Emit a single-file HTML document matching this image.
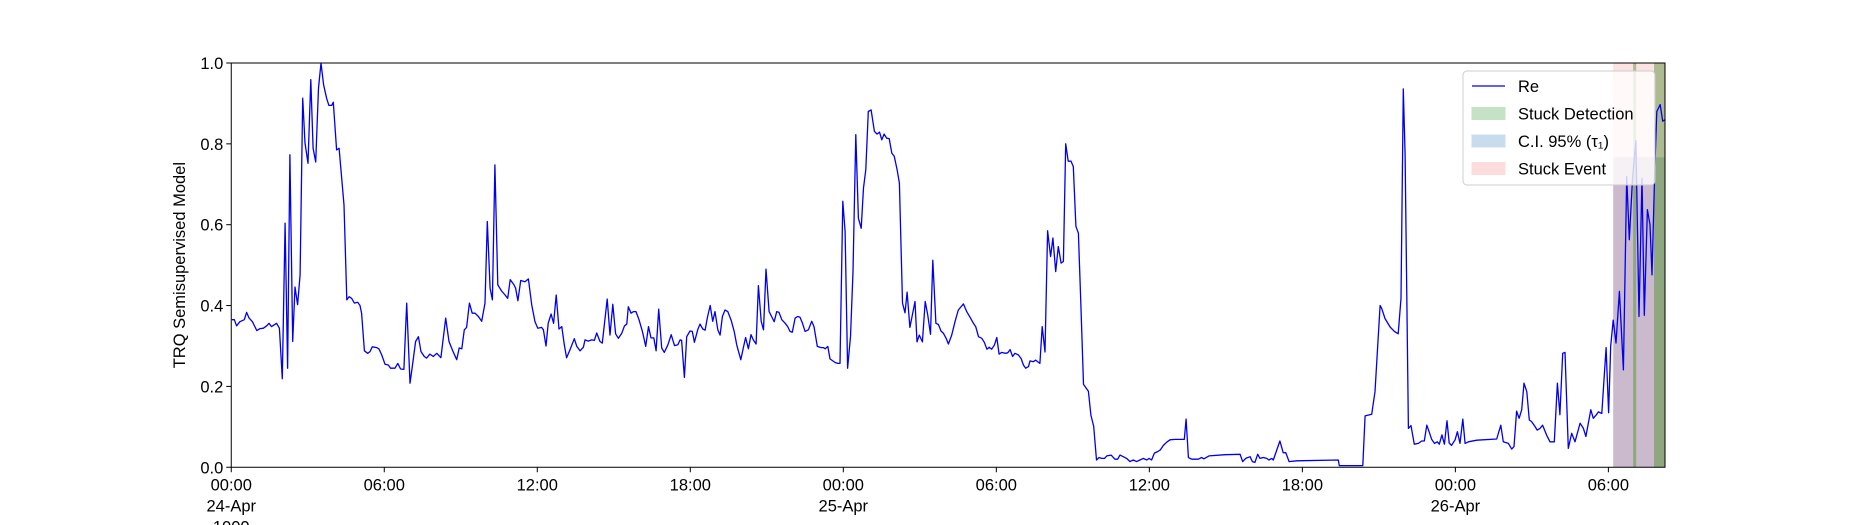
<!DOCTYPE html>
<html><head><meta charset="utf-8"><style>
html,body{margin:0;padding:0;background:#fff;}
svg{display:block;font-family:"Liberation Sans","DejaVu Sans",sans-serif;}
</style></head><body>
<svg id="chart" width="1850" height="525" viewBox="0 0 1850 525" xmlns="http://www.w3.org/2000/svg"></svg>
<script>
const hours=[0.02,0.12,0.21,0.34,0.51,0.60,0.70,0.83,1.00,1.13,1.26,1.39,1.48,1.58,1.78,1.89,2.00,2.11,2.21,2.30,2.41,2.50,2.60,2.70,2.80,2.89,3.01,3.12,3.21,3.31,3.42,3.52,3.62,3.74,3.83,3.94,4.00,4.13,4.23,4.42,4.53,4.62,4.72,4.83,4.96,5.05,5.11,5.22,5.35,5.44,5.53,5.70,5.79,5.90,6.03,6.16,6.25,6.42,6.53,6.64,6.77,6.88,7.01,7.10,7.23,7.34,7.44,7.57,7.66,7.79,7.92,8.06,8.22,8.41,8.54,8.67,8.84,8.94,9.04,9.14,9.23,9.34,9.45,9.56,9.69,9.82,9.95,10.04,10.15,10.24,10.34,10.45,10.60,10.74,10.84,10.94,11.08,11.15,11.24,11.35,11.52,11.65,11.78,11.91,12.02,12.17,12.24,12.34,12.43,12.54,12.64,12.74,12.85,12.96,13.06,13.15,13.28,13.45,13.55,13.68,13.81,13.87,14.00,14.13,14.24,14.33,14.46,14.55,14.74,14.85,14.96,15.07,
15.18,15.31,15.42,15.51,15.57,15.68,15.77,15.87,15.99,16.12,16.25,16.36,16.46,16.57,16.66,16.76,16.88,16.98,17.12,17.25,17.38,17.51,17.60,17.66,17.77,17.86,17.99,18.08,18.16,18.29,18.38,18.49,18.58,18.68,18.78,18.88,18.97,19.08,19.17,19.26,19.36,19.47,19.60,19.72,19.82,19.98,20.08,20.17,20.28,20.38,20.47,20.58,20.67,20.78,20.87,20.97,21.09,21.19,21.29,21.39,21.48,21.59,21.72,21.82,21.91,22.00,22.11,22.21,22.30,22.40,22.50,22.63,22.76,22.85,22.98,23.13,23.22,23.29,23.39,23.48,23.68,23.78,23.87,23.98,24.07,24.17,24.28,24.38,24.49,24.59,24.70,24.79,24.88,24.98,25.09,25.22,25.32,25.42,25.51,25.60,25.70,25.80,25.90,26.00,26.11,26.20,26.32,26.42,26.50,26.61,26.71,26.81,26.89,26.98,27.10,27.21,27.31,27.42,27.51,27.63,27.73,27.83,27.93,28.03,28.12,28.25,28.38,28.51,28.71,28.84,28.97,29.10,29.19,29.30,29.43,29.53,29.63,29.72,29.82,29.93,30.02,30.11,30.21,30.34,30.45,30.54,30.64,
30.73,30.86,30.97,31.06,31.15,31.26,31.32,31.45,31.54,31.71,31.80,31.91,32.01,32.13,32.22,32.33,32.43,32.54,32.63,32.72,32.82,32.93,33.02,33.12,33.22,33.32,33.42,33.61,33.71,33.82,33.93,34.03,34.13,34.24,34.33,34.50,34.65,34.76,34.85,34.98,35.11,35.24,35.37,35.50,35.63,35.76,35.90,35.99,36.09,36.20,36.33,36.43,36.55,36.68,36.81,37.01,37.37,37.44,37.53,37.66,37.92,38.05,38.14,38.34,38.97,39.56,39.66,39.78,39.95,40.04,40.14,40.25,40.34,40.47,40.60,40.69,40.80,40.86,41.12,41.25,41.35,41.48,41.78,43.41,43.45,44.37,44.46,44.72,44.85,45.05,45.11,45.24,45.44,45.61,45.76,45.87,45.96,46.03,46.16,46.26,46.39,46.55,46.68,46.78,46.88,46.97,47.07,47.18,47.29,47.37,47.47,47.57,47.67,47.76,
47.85,47.99,48.08,48.18,48.29,48.38,48.51,48.84,49.62,49.78,49.88,50.08,50.21,50.30,50.40,50.50,50.60,50.69,50.80,50.90,50.99,51.12,51.21,51.32,51.42,51.58,51.71,51.88,52.00,52.10,52.21,52.30,52.43,52.56,52.69,52.89,53.02,53.12,53.31,53.41,53.52,53.61,53.74,53.91,54.01,54.09,54.19,54.30,54.43,54.59,54.72,54.82,54.95,55.08,55.20,55.32,55.41,55.53,55.63,55.71,55.82,55.90,56.03,56.13,56.22];
const values=[0.365,0.365,0.35,0.36,0.365,0.383,0.369,0.36,0.338,0.343,0.344,0.35,0.356,0.348,0.356,0.344,0.219,0.604,0.245,0.773,0.311,0.446,0.402,0.476,0.913,0.802,0.752,0.959,0.789,0.755,0.938,1.0,0.946,0.913,0.895,0.895,0.903,0.785,0.789,0.649,0.414,0.422,0.418,0.406,0.408,0.400,0.381,0.288,0.282,0.286,0.298,0.296,0.293,0.278,0.255,0.253,0.245,0.245,0.257,0.243,0.242,0.406,0.208,0.249,0.311,0.323,0.286,0.274,0.270,0.280,0.274,0.282,0.271,0.369,0.311,0.290,0.266,0.295,0.293,0.340,0.346,0.406,0.381,0.381,0.373,0.361,0.406,0.608,0.443,0.414,0.748,0.451,0.436,0.426,0.418,0.464,0.452,0.443,0.412,0.462,0.459,0.466,0.402,0.360,0.344,0.346,0.340,0.300,0.356,0.379,0.356,0.426,0.342,0.348,0.303,0.271,0.290,0.318,0.299,0.288,0.297,0.315,0.312,0.315,0.314,0.332,0.311,0.307,0.416,0.327,0.403,0.330,
0.319,0.331,0.350,0.354,0.397,0.381,0.385,0.385,0.365,0.336,0.299,0.348,0.320,0.320,0.288,0.391,0.295,0.284,0.303,0.328,0.301,0.303,0.315,0.314,0.222,0.323,0.337,0.336,0.309,0.340,0.354,0.342,0.339,0.373,0.400,0.361,0.385,0.340,0.327,0.373,0.389,0.385,0.364,0.336,0.303,0.266,0.295,0.321,0.293,0.328,0.315,0.305,0.449,0.361,0.340,0.490,0.385,0.373,0.360,0.385,0.383,0.365,0.356,0.348,0.336,0.334,0.369,0.373,0.371,0.356,0.336,0.340,0.361,0.348,0.299,0.296,0.296,0.293,0.299,0.268,0.259,0.257,0.257,0.658,0.583,0.245,0.323,0.484,0.823,0.616,0.591,0.691,0.736,0.880,0.884,0.831,0.824,0.829,0.810,0.824,0.814,0.813,0.777,0.769,0.736,0.703,0.406,0.382,0.433,0.346,0.377,0.410,0.310,0.327,0.310,0.410,0.377,0.329,0.512,0.356,0.353,0.337,0.331,0.319,0.305,0.327,0.360,0.389,0.404,0.385,0.371,0.356,0.348,0.323,0.319,0.309,0.292,0.297,0.292,0.303,0.321,0.280,0.284,0.282,0.283,0.291,0.274,
0.282,0.278,0.269,0.253,0.245,0.249,0.263,0.261,0.265,0.257,0.348,0.285,0.585,0.521,0.567,0.484,0.546,0.505,0.509,0.800,0.757,0.757,0.744,0.596,0.579,0.393,0.205,0.188,0.129,0.101,0.018,0.024,0.022,0.022,0.028,0.030,0.020,0.020,0.030,0.026,0.022,0.014,0.018,0.014,0.018,0.022,0.018,0.022,0.018,0.035,0.039,0.043,0.054,0.062,0.068,0.069,0.069,0.119,0.024,0.020,0.020,0.024,0.021,0.028,0.031,0.032,0.014,0.022,0.026,0.014,0.012,0.032,0.022,0.024,0.022,0.018,0.022,0.018,0.065,0.036,0.036,0.014,0.016,0.018,0.004,0.004,0.127,0.131,0.187,0.400,0.393,0.368,0.347,0.336,0.330,0.418,0.936,0.773,0.096,0.103,0.057,0.059,0.065,0.065,0.104,0.088,0.069,0.059,0.063,0.057,0.080,0.057,0.115,0.060,
0.054,0.068,0.088,0.059,0.119,0.059,0.063,0.067,0.070,0.104,0.063,0.059,0.045,0.051,0.139,0.121,0.142,0.208,0.187,0.117,0.113,0.101,0.092,0.096,0.104,0.079,0.063,0.063,0.208,0.130,0.282,0.284,0.047,0.084,0.063,0.109,0.096,0.076,0.142,0.121,0.129,0.137,0.133,0.296,0.135,0.300,0.364,0.307,0.435,0.241,0.719,0.563,0.717,0.808,0.373,0.715,0.376,0.637,0.600,0.476,0.740,0.880,0.897,0.856,0.860];
const yTicks=[0.0,0.2,0.4,0.6,0.8,1.0];
const xTickHours=[0,6,12,18,24,30,36,42,48,54];
const xTickLabels=["00:00\n24-Apr\n1900","06:00","12:00","18:00","00:00\n25-Apr","06:00","12:00","18:00","00:00\n26-Apr","06:00"];
const stuckEvent=[54.19,55.79];
const ciSpan=[54.19,56.22];
const ciTop=[0.767];
const stuckDetect=[[54.97,55.09],[55.79,56.22]];

const NS="http://www.w3.org/2000/svg";
const svg=document.getElementById('chart');
const L=231.25,R=1665,T=63,B=467.25,XMAX=56.22;
const xs=h=>L+(h/XMAX)*(R-L);
const ys=v=>B-v*(B-T);
function mk(tag,attrs,parent){const e=document.createElementNS(NS,tag);for(const k in attrs)e.setAttribute(k,attrs[k]);(parent||svg).appendChild(e);return e;}

const clip=mk('clipPath',{id:'pc'});mk('rect',{x:L,y:T,width:R-L,height:B-T},clip);

// shaded regions
let r=mk('rect',{x:xs(stuckEvent[0]),y:T,width:xs(stuckEvent[1])-xs(stuckEvent[0]),height:B-T,fill:'#fde2e2'});


r=mk('rect',{x:xs(ciSpan[0]),y:ys(ciTop[0]),width:xs(ciSpan[1])-xs(ciSpan[0]),height:B-ys(ciTop[0]),fill:'#cbbace'});


stuckDetect.forEach(s=>{
  const a=mk('rect',{x:xs(s[0]),y:T,width:xs(s[1])-xs(s[0]),height:ys(ciTop[0])-T,fill:'#aebb90'});
  
  
  const b=mk('rect',{x:xs(s[0]),y:ys(ciTop[0]),width:xs(s[1])-xs(s[0]),height:B-ys(ciTop[0]),fill:'#8ea77f'});
  
  
});

// line
let d='';
hours.forEach((h,i)=>{d+=(i?'L':'M')+xs(h).toFixed(1)+','+ys(values[i]).toFixed(1);});
const line=mk('path',{d:d,fill:'none',stroke:'#0000ee','stroke-width':1.3,'stroke-linejoin':'round','clip-path':'url(#pc)'});



// axes frame
const fr=mk('rect',{x:L,y:T,width:R-L,height:B-T,fill:'none',stroke:'#000','stroke-width':1});



// y ticks
yTicks.forEach(v=>{
  mk('line',{x1:L-5,x2:L,y1:ys(v),y2:ys(v),stroke:'#000'});
  const t=mk('text',{x:L-8,y:ys(v)+6,'text-anchor':'end','font-size':16.5,fill:'#000'});
  t.textContent=v.toFixed(1);
  
  
});
// x ticks
xTickHours.forEach((h,i)=>{
  mk('line',{x1:xs(h),x2:xs(h),y1:B,y2:B+5,stroke:'#000'});
  xTickLabels[i].split('\n').forEach((s,j)=>{
    const t=mk('text',{x:xs(h),y:B+23+j*21,'text-anchor':'middle','font-size':16.5,fill:'#000'});
    t.textContent=s;
    
    
  });
});
// y title
const yt=mk('text',{x:185,y:(T+B)/2,'text-anchor':'middle','font-size':16.5,transform:'rotate(-90 185 '+((T+B)/2)+')'});
yt.textContent='TRQ Semisupervised Model';



// legend
const lg=mk('g',{});


mk('rect',{x:1463,y:71,width:192,height:114,rx:4,fill:'#fff','fill-opacity':0.8,stroke:'#cccccc'},lg);
const ents=[['Re','line','#0000ee'],['Stuck Detection','patch','#c6e2c6'],['C.I. 95% (τ₁)','patch','#c9dced'],['Stuck Event','patch','#fcdcdc']];
ents.forEach((e,i)=>{
  const cy=86+i*27.5;
  const g=mk('g',{},lg);
  
  
  if(e[1]==='line') mk('line',{x1:1472,x2:1505,y1:cy,y2:cy,stroke:e[2],'stroke-width':1.3},g);
  else mk('rect',{x:1472,y:cy-6,width:33,height:12,fill:e[2],stroke:e[2]},g);
  const t=mk('text',{x:1518,y:cy+6,'font-size':16.5,fill:'#000'},g);
  t.textContent=e[0];
});
</script>
</body></html>
